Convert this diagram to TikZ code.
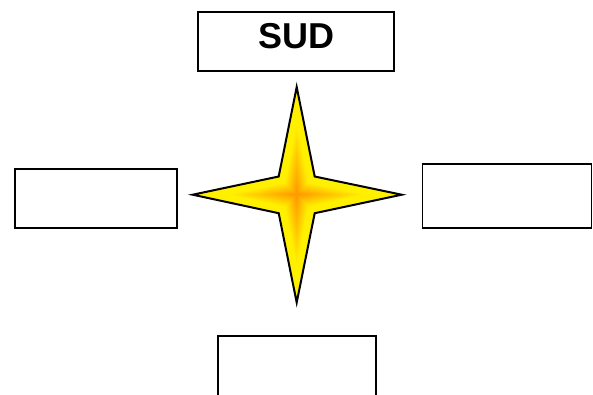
\documentclass[tikz,border=0pt]{standalone}
\usepackage{fontspec}
\setmainfont{Liberation Sans}
\usepackage{tikz}

\definecolor{starorange}{RGB}{255,150,0}
\definecolor{staryellow}{RGB}{255,240,0}

\tikzset{
  pointbox/.style={draw=black, line width=1.8pt, fill=white, inner sep=0pt},
  starpath/.style={line width=2pt, line join=miter},
}

% four-pointed star, drawn round (0,0)
\newcommand{\starshape}{(0,-107.5) -- (18,-18) -- (105,0.2) -- (18,18.7)
  -- (0,108) -- (-18,18.7) -- (-104,0.2) -- (-18,-18) -- cycle}

\begin{document}
\begin{tikzpicture}[x=1pt, y=-1pt]

\useasboundingbox (0,0) rectangle (593,394);

% Top box
\node[pointbox, minimum width=196pt, minimum height=59pt, text depth=11pt,
  font=\fontsize{36}{42}\selectfont\bfseries] (sud) at (296,41.5) {SUD};

% Side boxes
\node[pointbox, minimum width=162pt, minimum height=59pt] (west) at (96,198.6) {};
\node[pointbox, minimum width=169pt, minimum height=64pt] (east) at (507,196) {};

% Bottom box (cut by the page edge)
\node[pointbox, minimum width=158pt, minimum height=80pt] (north) at (297,376) {};

% Star: yellow, turning orange towards the middle
\coordinate (centre) at (296.7,194.5);
\fill[staryellow, shift={(centre)}] \starshape;
\foreach \s [evaluate=\s as \p using {max(0,100-150*\s)}] in {0.66,0.64,...,0.02}
  \fill[starorange!\p!staryellow, shift={(centre)}, scale=\s] \starshape;
\draw[starpath, shift={(centre)}] \starshape;

\end{tikzpicture}
\end{document}
